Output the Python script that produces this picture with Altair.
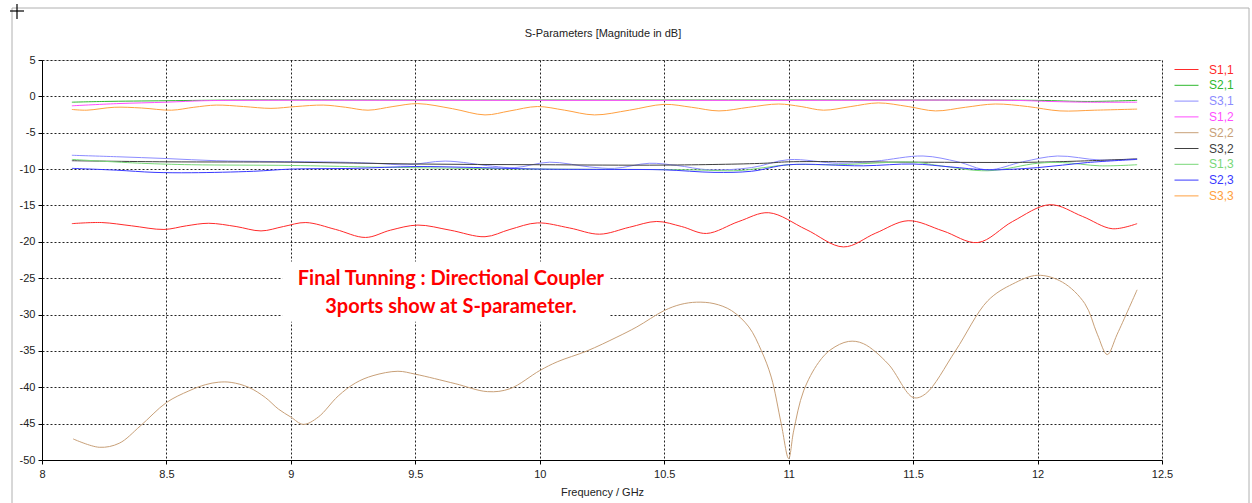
import altair as alt
import pandas as pd
import json

# ---------------- data ----------------
series_names = ["S1,1", "S2,1", "S3,1", "S1,2", "S2,2", "S3,2", "S1,3", "S2,3", "S3,3"]
series_colors = ["#ff2a2a", "#2eb82e", "#8c8cff", "#ff4dff", "#c8a078",
                 "#404040", "#78d878", "#3a3aff", "#ffa040"]

s11_f = [8.12, 8.24, 8.36, 8.49, 8.58, 8.67, 8.78, 8.88, 8.97, 9.06, 9.18, 9.30, 9.40, 9.51,
         9.64, 9.78, 9.88, 9.99, 10.12, 10.24, 10.36, 10.47, 10.57, 10.67, 10.80, 10.92, 11.07,
         11.22, 11.35, 11.48, 11.62, 11.76, 11.90, 12.05, 12.18, 12.30, 12.40]
s11_v = [-17.5, -17.35, -17.8, -18.3, -17.8, -17.45, -17.9, -18.5, -17.9, -17.35, -18.3, -19.4,
         -18.4, -17.7, -18.4, -19.3, -18.3, -17.4, -18.1, -18.95, -18.0, -17.2, -17.9, -18.85,
         -17.2, -16.0, -18.3, -20.7, -18.8, -17.1, -18.5, -20.1, -17.2, -14.9, -16.5, -18.2, -17.5]

s21_f = [8.12, 8.25, 8.5, 8.8, 9.5, 10.5, 11.5, 12.0, 12.2, 12.4]
s21_v = [-0.8, -0.7, -0.6, -0.5, -0.5, -0.5, -0.5, -0.55, -0.7, -0.55]

s31_f = [8.12, 8.3, 8.5, 8.7, 8.9, 9.2, 9.33, 9.47, 9.62, 9.81, 9.9, 10.04, 10.2, 10.3, 10.44,
         10.55, 10.68, 10.85, 11.0, 11.2, 11.35, 11.54, 11.68, 11.8, 11.94, 12.08, 12.25, 12.4]
s31_v = [-8.1, -8.3, -8.55, -8.85, -8.95, -9.05, -9.2, -9.4, -8.9, -9.6, -9.8, -9.05, -9.7, -9.9,
         -9.2, -9.5, -10.1, -9.8, -8.7, -9.2, -8.9, -8.2, -9.0, -10.1, -9.0, -8.2, -8.75, -8.6]

s12_f = [8.12, 8.3, 8.5, 8.65, 8.8, 10.0, 11.0, 11.9, 12.05, 12.2, 12.4]
s12_v = [-1.3, -1.0, -0.8, -0.6, -0.55, -0.55, -0.55, -0.55, -0.7, -0.8, -0.8]

s22_f = [8.125, 8.23, 8.31, 8.394, 8.5, 8.59, 8.656, 8.71, 8.76, 8.83, 8.897, 8.95, 9.0,
         9.05, 9.11, 9.19, 9.26, 9.33, 9.43, 9.5, 9.66, 9.79, 9.88, 10.0, 10.07, 10.19, 10.31,
         10.39, 10.5, 10.567, 10.63, 10.70, 10.77, 10.84, 10.89, 10.93, 10.97, 11.0, 11.02,
         11.06, 11.12, 11.17, 11.24, 11.3, 11.4, 11.5, 11.55, 11.67, 11.8, 11.9, 12.0, 12.1,
         12.19, 12.24, 12.28, 12.32, 12.4]
s22_v = [-47.1, -48.25, -47.7, -45.35, -42.1, -40.5, -39.65, -39.3, -39.33, -40.0, -41.4,
         -43.0, -44.1, -45.1, -44.1, -41.2, -39.4, -38.4, -37.8, -38.2, -39.5, -40.6, -40.2,
         -37.7, -36.5, -35.0, -33.1, -31.7, -29.45, -28.6, -28.3, -28.5, -29.45, -31.7, -34.95,
         -38.6, -45.0, -49.8, -46.0, -40.5, -36.6, -34.8, -33.7, -34.0, -36.8, -41.4, -40.9,
         -35.0, -28.1, -25.8, -24.6, -25.55, -28.5, -32.7, -35.5, -32.7, -26.6]

s32_f = [8.12, 8.5, 9.0, 9.5, 10.0, 10.5, 10.9, 11.0, 11.5, 12.0, 12.4]
s32_v = [-8.85, -9.0, -9.05, -9.3, -9.4, -9.45, -9.2, -9.0, -9.05, -9.05, -8.6]

s13_f = [8.12, 8.4, 8.6, 9.0, 9.3, 9.48, 10.0, 10.4, 10.6, 10.8, 10.9, 11.0, 11.2, 11.5, 11.6,
         11.8, 12.0, 12.1, 12.25, 12.4]
s13_v = [-8.67, -9.2, -9.4, -9.5, -9.7, -9.8, -10.0, -10.05, -10.1, -10.2, -9.8, -9.4, -9.4,
         -9.04, -9.5, -10.23, -9.2, -9.1, -9.55, -9.4]

s23_f = [8.12, 8.3, 8.45, 8.6, 8.85, 9.0, 9.25, 9.5, 9.7, 10.0, 10.3, 10.5, 10.7, 10.85, 11.0,
         11.3, 11.5, 11.65, 11.8, 12.0, 12.2, 12.4]
s23_v = [-9.9, -10.15, -10.45, -10.5, -10.3, -10.0, -9.9, -9.65, -9.75, -10.0, -10.05, -10.1,
         -10.45, -10.3, -9.4, -9.55, -9.3, -9.7, -10.1, -9.8, -9.1, -8.67]

s33_f = [8.12, 8.18, 8.29, 8.40, 8.52, 8.61, 8.70, 8.81, 8.92, 9.02, 9.13, 9.22, 9.31, 9.41,
         9.51, 9.65, 9.78, 9.88, 9.99, 10.10, 10.22, 10.36, 10.50, 10.61, 10.72, 10.84, 10.96,
         11.05, 11.14, 11.25, 11.36, 11.48, 11.59, 11.71, 11.83, 11.96, 12.09, 12.23, 12.40]
s33_v = [-1.8, -1.9, -1.5, -1.6, -1.9, -1.5, -1.2, -1.4, -1.65, -1.4, -1.2, -1.5, -1.9, -1.4,
         -1.0, -1.7, -2.55, -2.0, -1.4, -1.9, -2.55, -1.9, -1.1, -1.5, -2.0, -1.5, -1.05, -1.4,
         -1.9, -1.4, -0.9, -1.4, -2.0, -1.5, -1.05, -1.4, -2.0, -1.9, -1.75]

x_ticks = [8, 8.5, 9, 9.5, 10, 10.5, 11, 11.5, 12, 12.5]
y_ticks = [5, 0, -5, -10, -15, -20, -25, -30, -35, -40, -45, -50]

chart_title = "S-Parameters [Magnitude in dB]"
note_lines = ["Final Tunning : Directional Coupler", "3ports show at S-parameter."]
note_x = [9.643, 9.643]
note_y = [-25.1, -28.9]
note_box_x = [8.965]
note_box_x2 = [10.28]
note_box_y = [-22.7]
note_box_y2 = [-31.0]

# ---------------- build table ----------------
all_f = [s11_f, s21_f, s31_f, s12_f, s22_f, s32_f, s13_f, s23_f, s33_f]
all_v = [s11_v, s21_v, s31_v, s12_v, s22_v, s32_v, s13_v, s23_v, s33_v]
rows = []
for name, fs, vs in zip(series_names, all_f, all_v):
    for i, (f, v) in enumerate(zip(fs, vs)):
        rows.append({"series": name, "f": f, "db": v, "i": i})
df = pd.DataFrame(rows)

x_scale = alt.Scale(domain=[8, 12.5], nice=False, zero=False)
y_scale = alt.Scale(domain=[-50, 5], nice=False, zero=False)

font = "Liberation Sans"

x_axis = alt.Axis(values=x_ticks, labelExpr="'' + datum.value", title="Frequency / GHz",
                  grid=True, gridDash=[2, 2], gridColor="#222222", gridOpacity=1,
                  domainColor="#000000", tickColor="#000000", tickSize=4,
                  labelFont=font, labelFontSize=11, labelColor="#222222",
                  labelPadding=4, titleFont=font, titleFontSize=11,
                  titleFontWeight="normal", titleColor="#222222", titlePadding=7,
                  labelFlush=False, labelOverlap=False)
y_axis = alt.Axis(values=y_ticks, labelExpr="'' + datum.value", title=None,
                  grid=True, gridDash=[2, 2], gridColor="#222222", gridOpacity=1,
                  domainColor="#000000", tickColor="#000000", tickSize=4,
                  labelFont=font, labelFontSize=11, labelColor="#222222",
                  labelPadding=3, labelFlush=False, labelOverlap=False)

label_color_expr = "{}[indexof({}, datum.value)]".format(
    json.dumps(series_colors), json.dumps(series_names))

one = pd.DataFrame({"a": [0]})

# frame around the whole figure and the small crosshair at its corner (decoration)
frame = alt.Chart(one).mark_rect(
    fill=None, stroke="#b0b0b0", strokeWidth=1, clip=False
).encode(x=alt.value(-30), x2=alt.value(1207), y=alt.value(-52), y2=alt.value(450))
cross_h = alt.Chart(one).mark_rule(color="#000000", strokeWidth=1.2, clip=False).encode(
    x=alt.value(-32), x2=alt.value(-18), y=alt.value(-49))
cross_v = alt.Chart(one).mark_rule(color="#000000", strokeWidth=1.2, clip=False).encode(
    x=alt.value(-25), y=alt.value(-56), y2=alt.value(-41))

title_mark = alt.Chart(pd.DataFrame({"t": [chart_title]})).mark_text(
    font=font, fontSize=11, color="#222222", align="center", baseline="middle", clip=False
).encode(text="t:N", x=alt.value(561), y=alt.value(-26))

lines = alt.Chart(df).mark_line(strokeWidth=1, interpolate="catmull-rom").encode(
    x=alt.X("f:Q", scale=x_scale, axis=x_axis),
    y=alt.Y("db:Q", scale=y_scale, axis=y_axis),
    color=alt.Color("series:N",
                    scale=alt.Scale(domain=series_names, range=series_colors),
                    sort=series_names,
                    legend=alt.Legend(
                        title=None, orient="none", legendX=1136, legendY=1,
                        symbolType="M-1.5,0H1.5", symbolSize=256, symbolStrokeWidth=1,
                        labelFont=font, labelFontSize=12, labelOffset=14,
                        rowPadding=0.8, padding=0,
                        labelColor={"expr": label_color_expr},
                    )),
    order="i:Q",
)

box = alt.Chart(pd.DataFrame({"x": note_box_x, "x2": note_box_x2,
                              "y": note_box_y, "y2": note_box_y2})).mark_rect(
    fill="white"
).encode(x=alt.X("x:Q", scale=x_scale, axis=x_axis), x2="x2:Q",
         y=alt.Y("y:Q", scale=y_scale, axis=y_axis), y2="y2:Q")

notes = alt.Chart(pd.DataFrame({"t": note_lines, "x": note_x, "y": note_y})).mark_text(
    font="Lato", fontWeight="bold", fontSize=20, color="#ff0000", align="center",
    baseline="middle"
).encode(x=alt.X("x:Q", scale=x_scale, axis=x_axis),
         y=alt.Y("y:Q", scale=y_scale, axis=y_axis), text="t:N")

chart = alt.layer(frame, cross_h, cross_v, title_mark, lines, box, notes).properties(
    width=1120, height=400,
    autosize=alt.AutoSizeParams(type="none"),
    padding={"left": 42, "top": 60, "right": 90, "bottom": 43},
).configure_view(stroke="#707070", strokeWidth=1).configure(background="white")

chart.save("out.html", embed_options={"renderer": "svg", "actions": False})
